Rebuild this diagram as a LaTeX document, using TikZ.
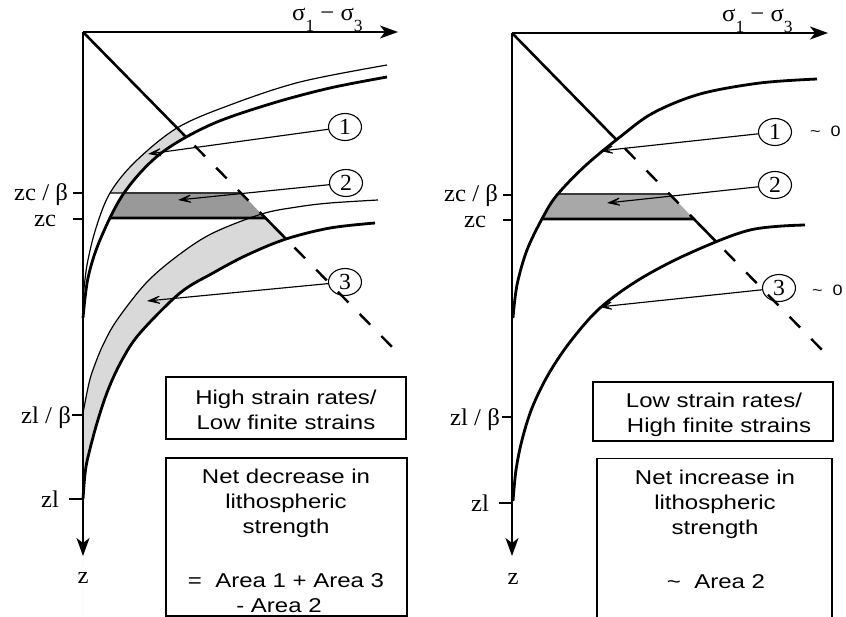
\documentclass[tikz,border=0pt]{standalone}
\usepackage{fontspec}
\setmainfont{Liberation Serif}[FakeStretch=1.03]
\newfontfamily\sfx{Liberation Sans}[FakeStretch=1.2]
\usetikzlibrary{arrows.meta,shapes.geometric,intersections}

% curves (pixel coordinates, y downwards), each listed from the axis end outwards
\def\LUK{plot[smooth,tension=0.55] coordinates {(83,318) (88,278) (100,240) (124,193) (160,154) (210,125) (270,104) (330,88) (387,77)}}
\def\LUN{plot[smooth,tension=0.55] coordinates {(83,299) (87,265) (96,228) (110,193) (135,162) (177,128) (230,105) (300,82) (387,65)}}
\def\LLK{plot[smooth,tension=0.55] coordinates {(83,499) (85,474) (88,457) (97,423) (108,390) (122,360) (140,333) (180,293) (213,273) (247,255) (286,239) (330,228) (375,223)}}
\def\LLN{plot[smooth,tension=0.55] coordinates {(83,413) (89,383) (94,367) (103,345) (117,320) (147,282) (180,254) (213,233) (261.6,214) (297,207) (330,203) (378,200)}}
\def\RUK{plot[smooth,tension=0.55] coordinates {(513,318) (517,285) (527,250) (543,217) (557,195) (585,166) (620,137) (653,113) (700,94) (760,83) (817,79)}}
\def\RLK{plot[smooth,tension=0.55] coordinates {(513,501) (516,470) (522,440) (532,408) (548,375) (570,342) (600,308) (640,279) (690,253) (750,230) (805,225)}}
\def\LeftHalf{(0,0) -- (51.6,0) -- (657,617) -- (0,617) -- cycle}
\def\RightHalf{(420,0) -- (479.7,0) -- (1083.7,617) -- (420,617) -- cycle}

\newcommand\subnum[1]{\raisebox{-11pt}{\fontsize{17pt}{17pt}\selectfont #1}}

\tikzset{
  thickc/.style={line width=2.8pt},
  thinc/.style={line width=1.2pt},
  tickl/.style={line width=1.3pt},
  axisl/.style={line width=1.5pt, -{Stealth[length=18pt,width=13pt,inset=5pt]}},
  diag/.style={line width=2.6pt},
  dashd/.style={line width=2.4pt, dash pattern=on 15pt off 16pt, dash phase=19pt},
  leader/.style={line width=1.15pt, -{Stealth[length=17pt,width=11pt,inset=10pt,line width=0.9pt]}},
  num/.style={draw, ellipse, line width=1.1pt, minimum width=33pt, minimum height=27pt, inner sep=0pt, font=\fontsize{23pt}{23pt}\selectfont},
  lab/.style={anchor=base west, inner sep=0pt, font=\fontsize{24pt}{26pt}\selectfont},
  sig/.style={anchor=base west, inner sep=0pt, font=\fontsize{24pt}{26pt}\selectfont},
  sans/.style={anchor=base, inner sep=0pt, font=\sfx\fontsize{20pt}{25pt}\selectfont},
  small/.style={anchor=base west, inner sep=0pt, font=\sfx\fontsize{15pt}{18pt}\selectfont},
  framebox/.style={draw, line width=1.3pt, inner sep=0pt},
}
\definecolor{lightfill}{gray}{0.85}
\definecolor{darkfillL}{gray}{0.60}
\definecolor{darkfillR}{gray}{0.66}

\begin{document}
\begin{tikzpicture}[x=1pt,y=-1pt]
\useasboundingbox (0,0) rectangle (846,617);
\clip (0,0) rectangle (846,617);

% ---------- construction paths and crossings ----------
\path[name path=LUKp] \LUK;
\path[name path=LUNp] \LUN;
\path[name path=LLKp] \LLK;
\path[name path=LLNp] \LLN;
\path[name path=RUKp] \RUK;
\path[name path=RLKp] \RLK;
\path[name path=dL] (83,32) -- (397,352);
\path[name path=dR] (512,33) -- (826,354);
\path[name path=hL1] (83,193) -- (241,193);
\path[name path=hL2] (83,218) -- (265.5,218);
\path[name path=hR1] (513,194) -- (669.5,194);
\path[name path=hR2] (513,219) -- (694,219);
\path[name intersections={of=LUKp and dL, by=pL1}];
\path[name intersections={of=LLNp and dL, by=pL2}];
\path[name intersections={of=LLKp and dL, by=pL3}];
\path[name intersections={of=LUNp and hL1, by=qL1}];
\path[name intersections={of=LUKp and hL2, by=qL2}];
\path[name intersections={of=RUKp and dR, by=pR1}];
\path[name intersections={of=RLKp and dR, by=pR3}];
\path[name intersections={of=RUKp and hR1, by=qR1}];
\path[name intersections={of=RUKp and hR2, by=qR2}];
\coordinate (pR2) at (690,215);

% ---------- fills, left panel ----------
% area 1
\begin{scope}
  \clip \LeftHalf;
  \clip (0,0) rectangle (846,193);
  \clip \LUN -- (846,65) -- (846,617) -- (83,617) -- cycle;
  \fill[lightfill, even odd rule] (0,0) rectangle (846,617) \LUK -- (846,77) -- (846,617) -- (83,617) -- cycle;
\end{scope}
% area 3
\begin{scope}
  \clip \LeftHalf;
  \clip \LLN -- (846,200) -- (846,617) -- (83,617) -- cycle;
  \fill[lightfill, even odd rule] (0,0) rectangle (846,617) \LLK -- (846,223) -- (846,617) -- (83,617) -- cycle;
\end{scope}
% area 2
\begin{scope}
  \clip \LeftHalf;
  \clip (0,193) rectangle (846,218);
  \fill[darkfillL] \LUK -- (846,77) -- (846,617) -- (83,617) -- cycle;
\end{scope}
% ---------- fills, right panel ----------
\begin{scope}
  \clip \RightHalf;
  \clip (420,194) rectangle (846,219);
  \fill[darkfillR] \RUK -- (846,79) -- (846,617) -- (513,617) -- cycle;
\end{scope}

% ---------- left panel lines ----------
\draw[thinc] \LUN;
\draw[thickc] \LUK;
\draw[thinc] \LLN;
\draw[thickc] \LLK;
\draw[thinc] (qL1) -- (241,193);
\draw[thickc] (qL2) -- (265.5,218);
\draw[diag] (83,32) -- (pL1);
\draw[dashd] (pL1) -- (pL2);
\draw[diag] (pL2) -- (pL3);
\draw[dashd] (pL3) -- (397,352);
\draw[axisl] (83,32) -- (83,556);
\draw[axisl] (83,32) -- (398,32);
\draw[tickl] (73,193) -- (83,193);
\draw[tickl] (73,219) -- (83,219);
\draw[tickl] (72,415) -- (83,415);
\draw[tickl] (69,499) -- (83,499);

% ---------- right panel lines ----------
\draw[thickc] \RUK;
\draw[thickc] \RLK;
\draw[thinc] (qR1) -- (669.5,194);
\draw[thickc] (qR2) -- (694,219);
\draw[diag] (512,33) -- (pR1);
\draw[dashd] (pR1) -- (pR2);
\draw[diag] (pR2) -- (pR3);
\draw[dashd] (pR3) -- (826,354);
\draw[axisl] (512,33) -- (512,556);
\draw[axisl] (512,33) -- (828,33);
\draw[tickl] (503,195) -- (512,195);
\draw[tickl] (503,220) -- (512,220);
\draw[tickl] (502,417) -- (512,417);
\draw[tickl] (499,503) -- (512,503);

% ---------- axis labels ----------
\node[sig] (sigL) at (292,21) {σ\subnum{1} − σ\subnum{3}};
\node[sig] (sigR) at (722,22) {σ\subnum{1} − σ\subnum{3}};
\node[lab] (zcbL) at (14,201) {zc / β};
\node[lab] (zcL) at (34,227) {zc};
\node[lab] (zlbL) at (21,423) {zl / β};
\node[lab] (zlL) at (41,507) {zl};
\node[lab, anchor=base] (zL) at (83,583) {z};
\node[lab] (zcbR) at (444,202) {zc / β};
\node[lab] (zcR) at (464,228) {zc};
\node[lab] (zlbR) at (450,425) {zl / β};
\node[lab] (zlR) at (471,511) {zl};
\node[lab, anchor=base] (zR) at (513,584) {z};

% ---------- numbered areas ----------
\node[num] (c1) at (345,127) {1};
\node[num] (c2) at (346,183) {2};
\node[num] (c3) at (345,282) {3};
\coordinate (t1) at (148,154);
\coordinate (t2) at (178,200);
\coordinate (t3) at (147,301);
\draw[leader] (c1) -- (t1);
\draw[leader] (c2) -- (t2);
\draw[leader] (c3) -- (t3);

\node[num] (d1) at (775,132) {1};
\node[num] (d2) at (775,185) {2};
\node[num] (d3) at (779,288) {3};
\coordinate (u1) at (600,151);
\coordinate (u2) at (607,203);
\coordinate (u3) at (599,307);
\draw[leader] (d1) -- (u1);
\draw[leader] (d2) -- (u2);
\draw[leader] (d3) -- (u3);
\node[small] (z1) at (810,137) {\textasciitilde\hspace{10pt}0};
\node[small] (z3) at (812,296) {\textasciitilde\hspace{10pt}0};

% ---------- text boxes ----------
\node[framebox, minimum width=240pt, minimum height=62pt] (hbL) at (286,408) {};
\node[sans] (hL1) at (286,404) {High strain rates/};
\node[sans] (hL2) at (286,429) {Low finite strains};
\node[framebox, minimum width=241pt, minimum height=158pt] (nbL) at (286.5,537) {};
\node[sans] (nL1) at (286,483) {Net decrease in};
\node[sans] (nL2) at (286,508) {lithospheric};
\node[sans] (nL3) at (286,533) {strength};
\node[sans] (nL4) at (286,587) {=\ \ Area 1 + Area 3};
\node[sans] (nL5) at (279,612) {- Area 2};

\node[framebox, minimum width=240pt, minimum height=59pt] (hbR) at (713,411.5) {};
\node[sans] (hR1) at (714,407) {Low strain rates/};
\node[sans] (hR2) at (719,432) {High finite strains};
\node[framebox, minimum width=235pt, minimum height=200pt, anchor=north] (nbR) at (714.5,458) {};
\node[sans] (nR1) at (715,484) {Net increase in};
\node[sans] (nR2) at (715,509) {lithospheric};
\node[sans] (nR3) at (715,534) {strength};
\node[sans] (nR4) at (716,588) {\textasciitilde\ \ Area 2};
\end{tikzpicture}
\end{document}
